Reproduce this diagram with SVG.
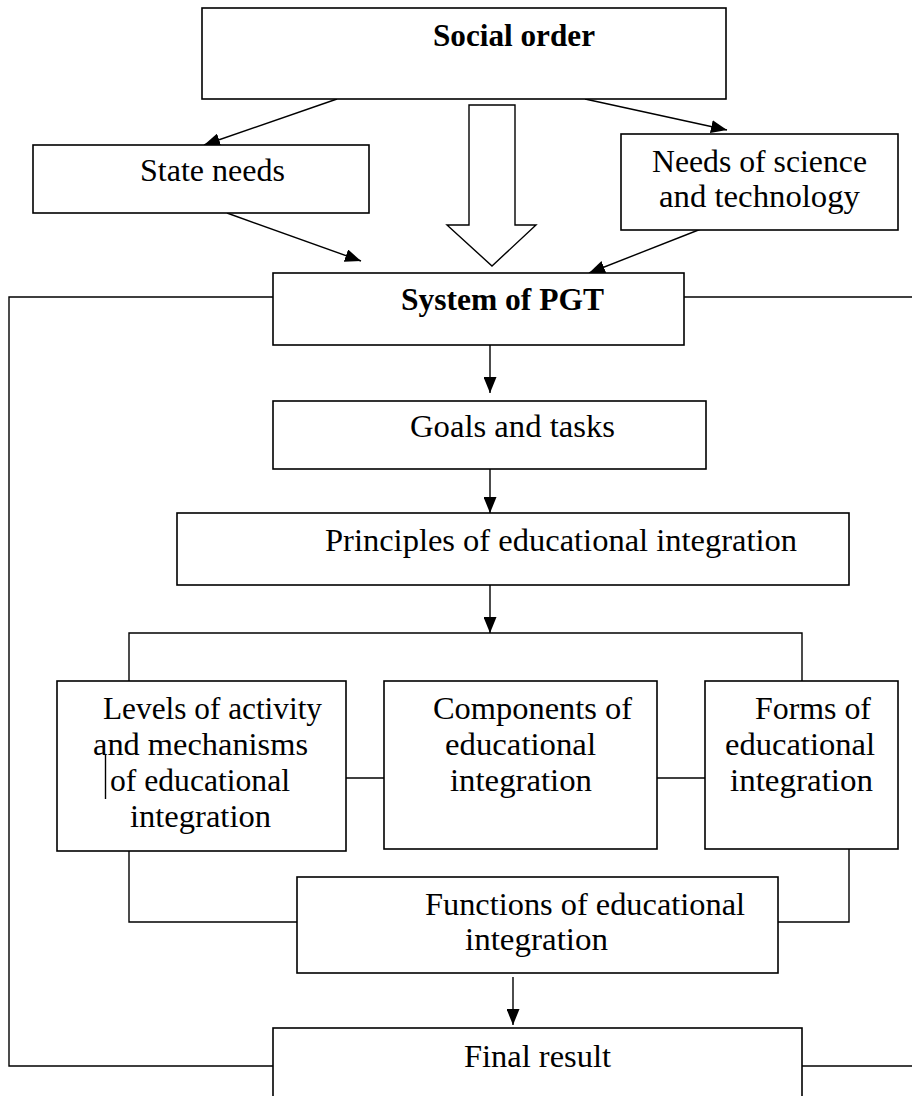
<svg xmlns="http://www.w3.org/2000/svg" width="912" height="1096" viewBox="0 0 912 1096">
<defs>
<marker id="ah" markerUnits="userSpaceOnUse" markerWidth="16" markerHeight="13" refX="16" refY="6.5" orient="auto">
<path d="M0,0 L16,6.5 L0,13 z" fill="#000"/>
</marker>
<style>
.box{fill:#fff;stroke:#000;stroke-width:1.6}
.ln{fill:none;stroke:#000;stroke-width:1.4}
.ar{fill:none;stroke:#000;stroke-width:1.4;marker-end:url(#ah)}
text{font-family:"Liberation Serif","Times New Roman",serif;font-size:31px;fill:#000}
.b{font-weight:bold}
</style>
</defs>
<rect width="912" height="1096" fill="#fff"/>
<g id="connectors">
<path class="ln" d="M273,297 H9 V1066 H273"/>
<path class="ln" d="M684,297 H912"/>
<path class="ln" d="M802,1066 H912"/>
<path class="ar" d="M337,99 L204,145"/>
<path class="ar" d="M585,99 L727,130"/>
<path class="ar" d="M227,213 L361,261"/>
<path class="ar" d="M701,229 L589,273"/>
<path class="ar" d="M490,345 V393"/>
<path class="ar" d="M490,466 V513"/>
<path class="ar" d="M490,585 V633"/>
<path class="ln" d="M129,681 V633 H802 V681"/>
<path class="ln" d="M346,778 H384"/>
<path class="ln" d="M657,778 H705"/>
<path class="ln" d="M129,849 V922 H297"/>
<path class="ln" d="M849,849 V922 H778"/>
<path class="ar" d="M513,977 V1025"/>
<path d="M469,105 H515 V225 H536 L492,266 L447,225 H469 Z" fill="#fff" stroke="#000" stroke-width="1.4"/>
</g>
<g id="social-order">
<rect class="box" x="202" y="8" width="524" height="91"/>
<text class="b" x="433" y="46" textLength="162" lengthAdjust="spacingAndGlyphs">Social order</text>
</g>
<g id="state-needs">
<rect class="box" x="33" y="145" width="336" height="68"/>
<text x="140" y="181" textLength="145" lengthAdjust="spacingAndGlyphs">State needs</text>
</g>
<g id="needs-science">
<rect class="box" x="621" y="134" width="277" height="96"/>
<text x="652" y="172" textLength="215" lengthAdjust="spacingAndGlyphs">Needs of science</text>
<text x="659" y="207" textLength="201" lengthAdjust="spacingAndGlyphs">and technology</text>
</g>
<g id="system-pgt">
<rect class="box" x="273" y="273" width="411" height="72"/>
<text class="b" x="401" y="310" textLength="203" lengthAdjust="spacingAndGlyphs">System of PGT</text>
</g>
<g id="goals">
<rect class="box" x="273" y="401" width="433" height="68"/>
<text x="410" y="437" textLength="205" lengthAdjust="spacingAndGlyphs">Goals and tasks</text>
</g>
<g id="principles">
<rect class="box" x="177" y="513" width="672" height="72"/>
<text x="325" y="551" textLength="472" lengthAdjust="spacingAndGlyphs">Principles of educational integration</text>
</g>
<g id="levels">
<rect class="box" x="57" y="681" width="289" height="170"/>
<text x="103" y="719" textLength="219" lengthAdjust="spacingAndGlyphs">Levels of activity</text>
<text x="93" y="755" textLength="215" lengthAdjust="spacingAndGlyphs">and mechanisms</text>
<text x="110" y="791" textLength="180" lengthAdjust="spacingAndGlyphs">of educational</text>
<text x="130" y="827" textLength="141" lengthAdjust="spacingAndGlyphs">integration</text>
<path class="ln" d="M105.5,755 V799"/>
</g>
<g id="components">
<rect class="box" x="384" y="681" width="273" height="168"/>
<text x="433" y="719" textLength="199" lengthAdjust="spacingAndGlyphs">Components of</text>
<text x="445" y="755" textLength="151" lengthAdjust="spacingAndGlyphs">educational</text>
<text x="450" y="791" textLength="142" lengthAdjust="spacingAndGlyphs">integration</text>
</g>
<g id="forms">
<rect class="box" x="705" y="681" width="193" height="168"/>
<text x="755" y="719" textLength="116" lengthAdjust="spacingAndGlyphs">Forms of</text>
<text x="725" y="755" textLength="150" lengthAdjust="spacingAndGlyphs">educational</text>
<text x="730" y="791" textLength="143" lengthAdjust="spacingAndGlyphs">integration</text>
</g>
<g id="functions">
<rect class="box" x="297" y="877" width="481" height="96"/>
<text x="425" y="915" textLength="320" lengthAdjust="spacingAndGlyphs">Functions of educational</text>
<text x="465" y="950" textLength="143" lengthAdjust="spacingAndGlyphs">integration</text>
</g>
<g id="final-result">
<rect class="box" x="273" y="1028" width="529" height="80"/>
<text x="464" y="1067" textLength="147" lengthAdjust="spacingAndGlyphs">Final result</text>
</g>
</svg>
